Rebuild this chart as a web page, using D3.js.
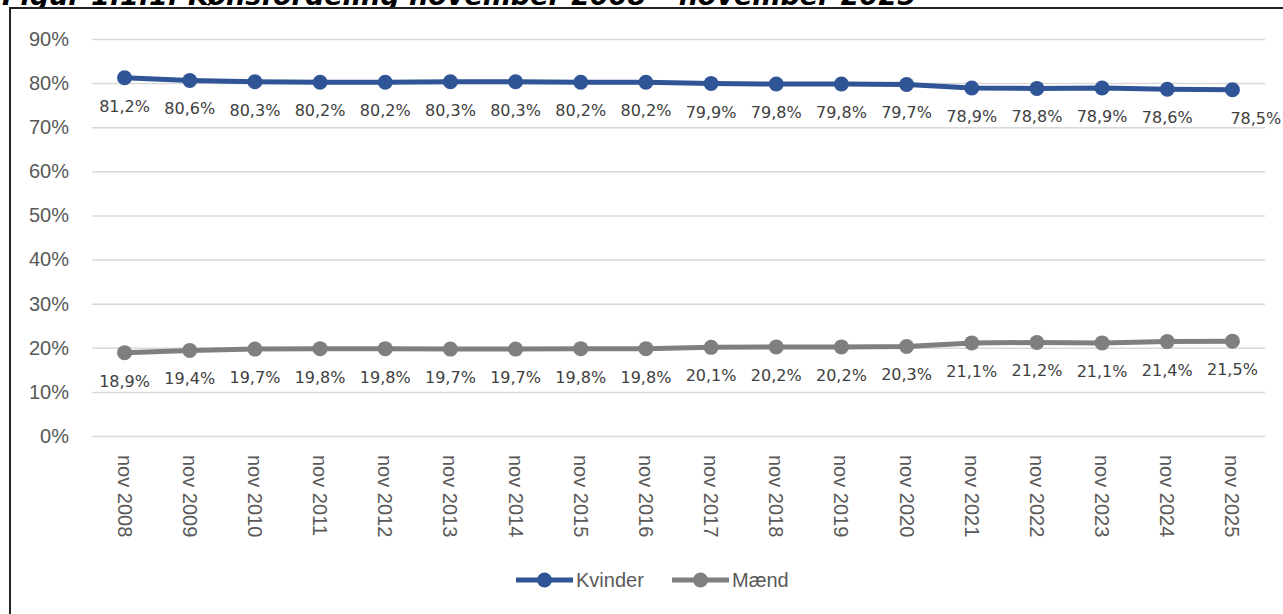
<!DOCTYPE html>
<html><head><meta charset="utf-8">
<script src="https://cdn.jsdelivr.net/npm/d3@7"></script>
<style>body{margin:0;background:#fff;overflow:hidden}svg{display:block}</style>
</head><body><svg id="c" width="1283" height="614"></svg>
<script>
const title = "Figur 1.1.1: Kønsfordeling november 2008 – november 2025";
const categories = ["nov 2008","nov 2009","nov 2010","nov 2011","nov 2012","nov 2013","nov 2014","nov 2015","nov 2016","nov 2017","nov 2018","nov 2019","nov 2020","nov 2021","nov 2022","nov 2023","nov 2024","nov 2025"];
const kvinder = [81.2,80.6,80.3,80.2,80.2,80.3,80.3,80.2,80.2,79.9,79.8,79.8,79.7,78.9,78.8,78.9,78.6,78.5];
const maend = [18.9,19.4,19.7,19.8,19.8,19.7,19.7,19.8,19.8,20.1,20.2,20.2,20.3,21.1,21.2,21.1,21.4,21.5];
const yTicks = [0,10,20,30,40,50,60,70,80,90];
const seriesNames = ["Kvinder","Mænd"];
const seriesColors = ["#2F5597","#7F7F7F"];

const svg = d3.select("#c");
const fmt = v => d3.format(".1f")(v).replace(".", ",") + "%";

svg.append("text").attr("x",2).attr("y",5).text(title)
  .attr("font-family","DejaVu Sans").attr("font-weight","bold").attr("font-style","italic")
  .attr("font-size",27).attr("fill","#000");

// frame
svg.append("rect").attr("x",10).attr("y",8).attr("width",1280).attr("height",620).attr("fill","#fff").attr("stroke","#222").attr("stroke-width",2);

const x = d3.scaleBand().domain(categories).range([92,1265]);
const y = d3.scaleLinear().domain([0,90]).range([436,39]);

const yAxis = svg.append("g").attr("transform","translate(92,0)")
  .call(d3.axisLeft(y).tickValues(yTicks).tickSize(-1173).tickFormat(d => d + "%"));
yAxis.select(".domain").remove();
yAxis.selectAll(".tick line").attr("stroke","#d9d9d9").attr("stroke-width",1.5);
yAxis.selectAll(".tick text").attr("x",-23).attr("font-family","Liberation Sans, Arial").attr("font-size",20).attr("fill","#595959");

const xAxis = svg.append("g").attr("transform","translate(0,436)")
  .call(d3.axisBottom(x).tickSize(0));
xAxis.select(".domain").remove();
xAxis.selectAll(".tick text")
  .attr("transform","rotate(90)").attr("x",19).attr("y",0).attr("dy","0.35em")
  .attr("text-anchor","start")
  .attr("font-family","Liberation Sans, Arial").attr("font-size",20).attr("fill","#595959");

const cx = d => x(d) + x.bandwidth()/2;
const series = [kvinder, maend];
series.forEach((vals, si) => {
  const pts = categories.map((c,i) => [cx(c), y(vals[i]), vals[i]]);
  svg.append("path").attr("d", d3.line()(pts.map(p => [p[0],p[1]])))
    .attr("fill","none").attr("stroke",seriesColors[si]).attr("stroke-width",5).attr("stroke-linejoin","round");
  svg.append("g").selectAll("circle").data(pts).join("circle")
    .attr("cx",p=>p[0]).attr("cy",p=>p[1]).attr("r",7.5).attr("fill",seriesColors[si]);
  svg.append("g").selectAll("text").data(pts).join("text")
    .attr("x",(p,i)=> i===pts.length-1 && si===0 ? p[0]-2 : p[0])
    .attr("y",p=>p[1]+34)
    .attr("text-anchor",(p,i)=> i===pts.length-1 && si===0 ? "start" : "middle")
    .attr("font-family","DejaVu Sans, Verdana").attr("font-size",16).attr("fill","#404040")
    .text(p=>fmt(p[2]));
});

// legend
const leg = [{x:516},{x:672}];
seriesNames.forEach((n,i) => {
  const g = svg.append("g").attr("transform",`translate(${leg[i].x},580)`);
  g.append("line").attr("x1",0).attr("x2",57).attr("y1",0).attr("y2",0).attr("stroke",seriesColors[i]).attr("stroke-width",5);
  g.append("circle").attr("cx",28.5).attr("cy",0).attr("r",7.5).attr("fill",seriesColors[i]);
  g.append("text").attr("x",60).attr("y",0).attr("dy","0.35em").text(n)
    .attr("font-family","Liberation Sans, Arial").attr("font-size",20).attr("fill","#595959");
});
</script></body></html>
